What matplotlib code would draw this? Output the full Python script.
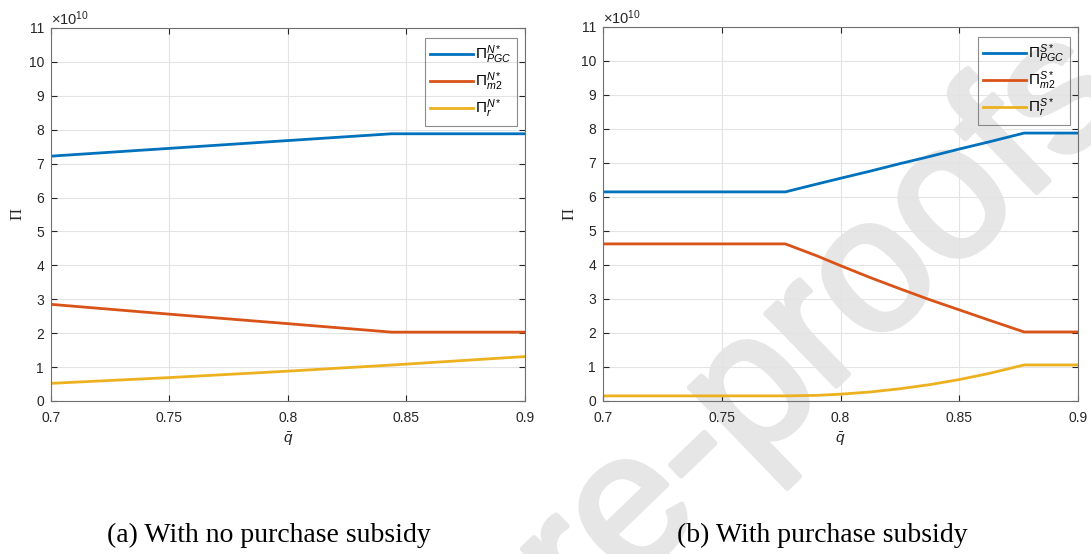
import matplotlib
matplotlib.use('Agg')
from matplotlib import pyplot as plt
from matplotlib import patheffects

plt.rcParams['font.family'] = ['Liberation Sans', 'DejaVu Sans']
plt.rcParams['mathtext.fontset'] = 'custom'
plt.rcParams['mathtext.rm'] = 'Liberation Sans'
plt.rcParams['mathtext.it'] = 'Liberation Sans:italic'
plt.rcParams['mathtext.sf'] = 'Liberation Sans'

# (a) no purchase subsidy, profits in units of 1e10
q_a = [0.70, 0.75, 0.80, 0.8437, 0.90]
pgc_a = [7.22, 7.45, 7.68, 7.88, 7.88]
m2_a = [2.85, 2.56, 2.28, 2.03, 2.03]
r_a = [0.52, 0.69, 0.88, 1.06, 1.31]

# (b) with purchase subsidy
q_b = [0.70, 0.7768, 0.79, 0.80, 0.8125, 0.825, 0.8375, 0.85, 0.8625, 0.8773, 0.90]
pgc_b = [6.15, 6.15, 6.38, 6.55, 6.76, 6.98, 7.19, 7.41, 7.62, 7.88, 7.88]
m2_b = [4.62, 4.62, 4.27, 3.98, 3.63, 3.30, 2.98, 2.68, 2.38, 2.03, 2.03]
r_b = [0.15, 0.15, 0.165, 0.20, 0.265, 0.36, 0.48, 0.63, 0.81, 1.06, 1.06]

labels_a = [r'$\Pi^{N*}_{PGC}$', r'$\Pi^{N*}_{m2}$', r'$\Pi^{N*}_{r}$']
labels_b = [r'$\Pi^{S*}_{PGC}$', r'$\Pi^{S*}_{m2}$', r'$\Pi^{S*}_{r}$']
captions = ['(a) With no purchase subsidy', '(b) With purchase subsidy']

colors = ['#0072BD', '#D95319', '#EDB120']
scale = 1e10
wm_color = '#e6e6e6'


def panel(ax, q, series, labels):
    for ys, c, lab in zip(series, colors, labels):
        ax.plot(q, [v * scale for v in ys], color=c, linewidth=2, label=lab)
    ax.set_xlim(0.7, 0.9)
    ax.set_ylim(0, 11 * scale)
    ax.set_xticks([0.7, 0.75, 0.8, 0.85, 0.9])
    ax.set_xticklabels(['0.7', '0.75', '0.8', '0.85', '0.9'])
    ax.set_yticks([i * scale for i in range(12)])
    ax.set_yticklabels([str(i) for i in range(12)])
    ax.text(0.0, 1.0, r'$\times10^{10}$', transform=ax.transAxes,
            fontsize=10.5, color='#262626', va='bottom', ha='left')
    ax.grid(True, color='#e3e3e3', linewidth=0.8)
    ax.set_axisbelow(True)
    ax.set_facecolor('none')
    ax.tick_params(direction='in', top=True, right=True, length=4,
                   labelsize=10, colors='#262626')
    ax.tick_params(axis='x', pad=7)
    ax.tick_params(axis='y', pad=5)
    for s in ax.spines.values():
        s.set_color('#707070')
        s.set_linewidth(0.8)
    ax.set_xlabel(r'$\bar{q}$', fontsize=11, color='#262626', labelpad=4)
    ax.set_ylabel('Π', fontsize=12, family='Liberation Serif',
                  color='#262626', labelpad=2)
    leg = ax.legend(loc='upper right', bbox_to_anchor=(0.983, 0.973),
                    borderaxespad=0, fancybox=False, edgecolor='#707070',
                    facecolor='none', framealpha=None, fontsize=11,
                    handlelength=2.8, labelspacing=0.3, borderpad=0.35,
                    handletextpad=0.15)
    leg.get_frame().set_linewidth(0.8)


fig = plt.figure(figsize=(10.91, 5.54), dpi=100)
fig.patch.set_facecolor('white')

# watermark
wm = fig.text(1.037, 0.818, 'Journal Pre-proofs', rotation=44, ha='right',
              va='baseline', rotation_mode='anchor', fontsize=137,
              color=wm_color, zorder=-10)
wm.set_path_effects([patheffects.withStroke(linewidth=4, foreground=wm_color)])

ax1 = fig.add_axes([0.0467, 0.2762, 0.4345, 0.6733])
ax2 = fig.add_axes([0.5527, 0.2762, 0.4354, 0.6751])
panel(ax1, q_a, [pgc_a, m2_a, r_a], labels_a)
panel(ax2, q_b, [pgc_b, m2_b, r_b], labels_b)

fig.text(0.246, 0.034, captions[0], family='Liberation Serif', fontsize=20,
         ha='center', va='center')
fig.text(0.7535, 0.034, captions[1], family='Liberation Serif', fontsize=20,
         ha='center', va='center')

fig.savefig('out.png', dpi=100)
